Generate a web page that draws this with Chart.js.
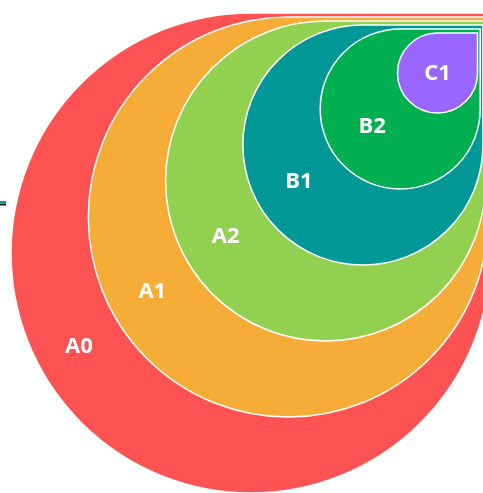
<!DOCTYPE html>
<html><head><meta charset="utf-8">
<script src="https://cdn.jsdelivr.net/npm/chart.js@4.4.1/dist/chart.umd.min.js"></script>
<style>html,body{margin:0;padding:0;background:#fff;overflow:hidden}#wrap{width:483px;height:493px;position:relative}</style>
</head><body><div id="wrap"><canvas id="c"></canvas></div>
<script>
// Data
const labels = ['A0', 'A1', 'A2', 'B1', 'B2', 'C1'];
const values = [6, 5, 4, 3, 2, 1];
// Styles
const colors = ['#ff5252', '#f5ad38', '#92d050', '#009797', '#00b050', '#9966ff'];

// layout constants (data units: 1 value = one radius step)
const RIGHT_INSET = 0.0675;
const TOP_INSET = 0.1;
const LABEL_DX = -0.9, LABEL_DX0 = 0.2;
const LABEL_DY = -0.475, LABEL_DY0 = 0.05;

const datasets = values.map((v, i) => {
  const right = -i * RIGHT_INSET;
  const top = -i * TOP_INSET;
  return {
    label: labels[i],
    data: [{ x: right - v, y: top - v }],
    value: v,
    right: right,
    top: top,
    backgroundColor: colors[i],
    pointRadius: 0,
    pointHoverRadius: 0
  };
});

const shapesPlugin = {
  id: 'shapes',
  afterDatasetsDraw(chart) {
    const ctx = chart.ctx;
    const xs = chart.scales.x, ys = chart.scales.y;
    ctx.save();
    chart.data.datasets.forEach((ds) => {
      const v = ds.value;
      const R = xs.getPixelForValue(ds.right);
      const L = xs.getPixelForValue(ds.right - 2 * v);
      const T = ys.getPixelForValue(ds.top);
      const B = ys.getPixelForValue(ds.top - 2 * v);
      const r = (R - L) / 2;
      const cx = L + r, cy = T + (B - T) / 2;
      ctx.beginPath();
      ctx.moveTo(cx, T);
      ctx.lineTo(R, T);
      ctx.lineTo(R, cy);
      ctx.arc(cx, cy, r, 0, 1.5 * Math.PI);
      ctx.closePath();
      ctx.fillStyle = ds.backgroundColor;
      ctx.fill();
      ctx.lineWidth = 1.5;
      ctx.strokeStyle = '#ffffff';
      ctx.stroke();
    });
    // labels
    ctx.fillStyle = '#ffffff';
    ctx.font = '700 22px "Open Sans"';
    ctx.textAlign = 'center';
    ctx.textBaseline = 'middle';
    chart.data.datasets.forEach((ds) => {
      const v = ds.value;
      const steps = v - 1;
      const k = Math.min(1, steps);
      const cxv = ds.right - v, cyv = ds.top - v;
      const lx = xs.getPixelForValue(cxv + LABEL_DX * steps + LABEL_DX0 * k);
      const ly = ys.getPixelForValue(cyv + LABEL_DY * steps + LABEL_DY0 * k);
      ctx.fillText(ds.label, lx, ly + 1);
    });
    // small line fragment at left edge
    ctx.lineWidth = 2;
    ctx.strokeStyle = '#009797';
    ctx.beginPath(); ctx.moveTo(0, 202); ctx.lineTo(6, 202); ctx.stroke();
    ctx.strokeStyle = '#111111';
    ctx.beginPath(); ctx.moveTo(0, 204.5); ctx.lineTo(6, 204.5); ctx.stroke();
    ctx.restore();
  }
};

new Chart(document.getElementById('c'), {
  type: 'scatter',
  data: { datasets: datasets },
  options: {
    responsive: true,
    maintainAspectRatio: false,
    animation: false,
    layout: { padding: 0 },
    plugins: { legend: { display: false }, tooltip: { enabled: false } },
    events: [],
    scales: {
      x: { type: 'linear', display: false, min: -12.275, max: -0.2 },
      y: { type: 'linear', display: false, min: -12, max: 0.325 }
    }
  },
  plugins: [shapesPlugin]
});
</script>
</body></html>
